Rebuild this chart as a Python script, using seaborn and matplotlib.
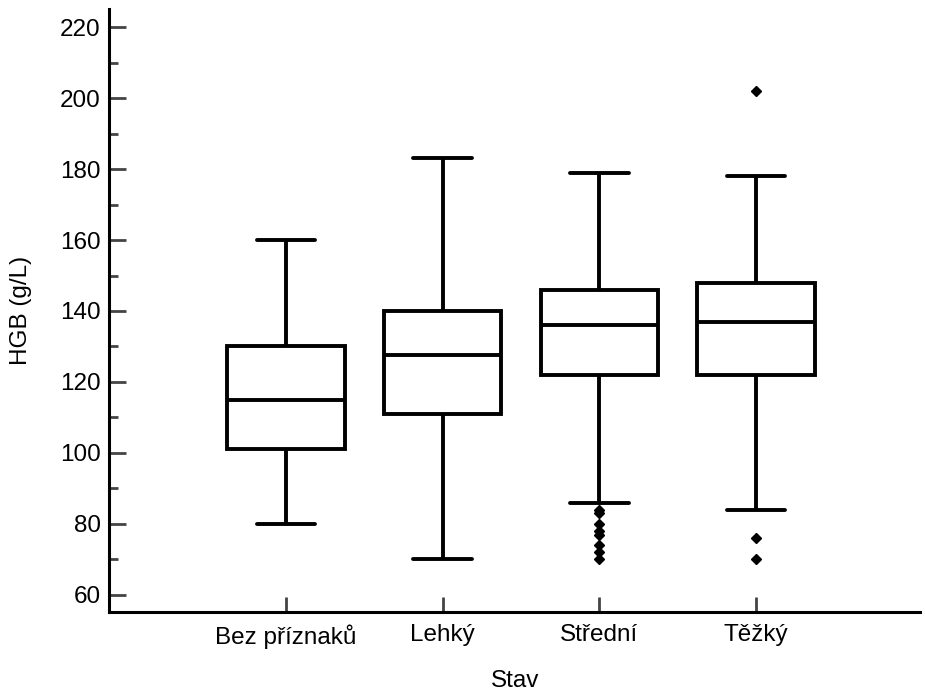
import numpy as np
import pandas as pd
import matplotlib
matplotlib.use("Agg")
import matplotlib.pyplot as plt
from matplotlib.ticker import MultipleLocator
import seaborn as sns

# ---- data ----
categories = ["Bez příznaků", "Lehký", "Střední", "Těžký"]
whisker_low = [80, 70, 86, 84]
q1 = [101, 111, 122, 122]
median = [115, 127.5, 136, 137]
q3 = [130, 140, 146, 148]
whisker_high = [160, 183, 179, 178]
outliers = [[], [], [70, 72, 74, 77, 78, 80, 83, 84], [70, 76, 202]]
y_ticks = [60, 80, 100, 120, 140, 160, 180, 200, 220]

# Build a representative sample per group so that seaborn's own boxplot
# statistics reproduce the summary values above.
rows = []
for cat, lo, a, m, b, hi, out in zip(categories, whisker_low, q1, median, q3,
                                      whisker_high, outliers):
    low_out = [v for v in out if v < lo]
    high_out = [v for v in out if v > hi]
    vals = low_out + [lo] + [a] * 20 + [m] * 20 + [b] * 20 + [hi] + high_out
    rows += [(cat, v) for v in vals]
df = pd.DataFrame(rows, columns=["Stav", "HGB (g/L)"])

sns.set_theme(style="ticks")
plt.rcParams["font.family"] = ["Liberation Sans", "DejaVu Sans"]

fig = plt.figure(figsize=(9.25, 6.93), dpi=100)
ax = fig.add_axes([0.118, 0.117, 0.877, 0.870])

lw = 2.8
sns.boxplot(
    data=df, x="Stav", y="HGB (g/L)", order=categories, ax=ax,
    width=0.75, color="white", linecolor="black", linewidth=lw,
    boxprops=dict(facecolor="white", edgecolor="black", linewidth=lw),
    whiskerprops=dict(color="black", linewidth=lw),
    capprops=dict(color="black", linewidth=lw),
    medianprops=dict(color="black", linewidth=lw),
    flierprops=dict(marker="D", markerfacecolor="black",
                    markeredgecolor="black", markersize=5.5),
)

ax.set_xlim(-1.13, 4.05)
ax.set_ylim(55.2, 225.1)
ax.set_yticks(y_ticks)
ax.yaxis.set_minor_locator(MultipleLocator(10))

for side in ["top", "right"]:
    ax.spines[side].set_visible(False)
for side in ["left", "bottom"]:
    ax.spines[side].set_linewidth(2.2)
    ax.spines[side].set_color("black")

fs = 17.5
ax.tick_params(axis="y", which="major", direction="in", length=12, width=2,
               color="#444444", labelsize=fs, pad=6, labelcolor="black")
ax.tick_params(axis="y", which="minor", direction="in", length=6.5, width=2,
               color="#444444")
ax.tick_params(axis="x", which="major", direction="in", length=11, width=2,
               color="#444444", labelsize=fs, pad=9, labelcolor="black")

ax.set_xlabel("Stav", fontsize=fs, labelpad=15, color="black")
ax.set_ylabel("HGB (g/L)", fontsize=fs, labelpad=20, color="black")
ax.grid(False)
ax.set_facecolor("white")
fig.patch.set_facecolor("white")

fig.savefig("out.png", dpi=100)
